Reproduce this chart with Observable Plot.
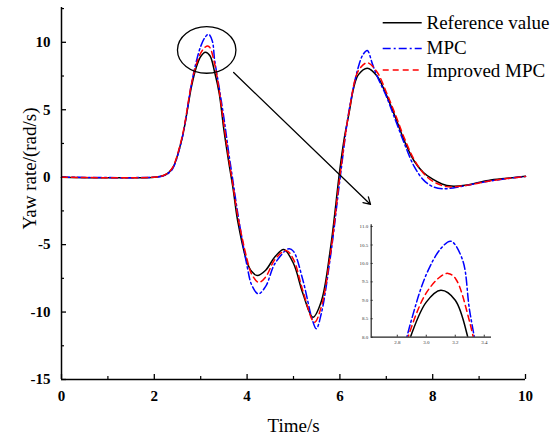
<!DOCTYPE html>
<html><head><meta charset="utf-8">
<script src="https://cdn.jsdelivr.net/npm/d3@7"></script>
<script src="https://cdn.jsdelivr.net/npm/@observablehq/plot@0.6"></script>
<style>
body{margin:0;background:#fff;}
#wrap{position:relative;width:553px;height:437px;font-family:"Liberation Serif","Times New Roman",serif;}
#inset{position:absolute;left:350px;top:215px;}
#legend{position:absolute;left:0;top:0;pointer-events:none;}
</style></head><body><div id="wrap"></div>
<script>
// ---- data ----
const refT = [0, 2.0, 2.2, 2.3, 2.4, 2.6, 2.8, 2.9, 3.0, 3.1, 3.2, 3.3, 3.4, 3.5, 3.6, 3.7, 3.8, 4.0, 4.1, 4.22, 4.4, 4.6, 4.79, 5.0, 5.2, 5.42, 5.6, 5.8, 6.0, 6.1, 6.2, 6.3, 6.4, 6.59, 6.8, 7.0, 7.2, 7.4, 7.6, 7.8, 8.0, 8.2, 8.4, 8.7, 9.2, 9.6, 10];
const refV = [0, 0, 0.12, 0.32, 0.7, 2.9, 6.7, 8.1, 8.95, 9.27, 9.0, 7.8, 6.2, 3.5, 1.2, -0.9, -3.3, -6.3, -7.0, -7.29, -6.9, -5.9, -5.36, -6.4, -8.6, -10.38, -9.2, -5.2, 0.6, 3.0, 4.8, 6.67, 7.6, 8.08, 7.5, 6.1, 4.4, 2.6, 1.2, 0.35, -0.15, -0.5, -0.66, -0.6, -0.24, -0.08, 0.07];

const mpcT = [0, 2.0, 2.2, 2.3, 2.4, 2.6, 2.8, 2.9, 3.0, 3.1, 3.17, 3.25, 3.3, 3.4, 3.5, 3.6, 3.7, 3.8, 4.0, 4.1, 4.24, 4.4, 4.6, 4.9, 5.0, 5.2, 5.4, 5.49, 5.6, 5.8, 6.0, 6.2, 6.4, 6.5, 6.59, 6.7, 6.8, 7.0, 7.2, 7.4, 7.6, 7.8, 8.0, 8.23, 8.6, 9.0, 9.5, 10];
const mpcV = [0, 0, 0.1, 0.28, 0.65, 2.9, 6.9, 8.5, 9.7, 10.4, 10.6, 10.1, 8.7, 6.6, 4.4, 1.9, -0.4, -2.7, -6.6, -8.0, -8.65, -8.1, -6.4, -5.3, -5.5, -7.6, -10.5, -11.24, -10.1, -5.8, -0.2, 5.0, 8.2, 9.1, 9.39, 8.4, 7.5, 6.0, 4.2, 2.4, 0.8, -0.2, -0.7, -0.86, -0.7, -0.42, -0.15, 0.05];

const impT = [0, 2.0, 2.2, 2.3, 2.4, 2.6, 2.8, 2.9, 3.0, 3.1, 3.15, 3.2, 3.3, 3.4, 3.5, 3.6, 3.7, 3.8, 4.0, 4.1, 4.25, 4.4, 4.6, 4.84, 5.0, 5.2, 5.45, 5.6, 5.8, 6.0, 6.2, 6.4, 6.59, 6.8, 7.0, 7.2, 7.4, 7.6, 7.8, 8.0, 8.3, 8.7, 9.2, 9.6, 10];
const impV = [0, 0, 0.13, 0.34, 0.75, 3.0, 6.9, 8.3, 9.2, 9.65, 9.73, 9.6, 8.4, 6.4, 3.9, 1.5, -0.7, -2.9, -6.1, -7.2, -7.8, -7.4, -6.1, -5.43, -6.1, -8.4, -10.75, -9.6, -5.6, 0.1, 4.9, 7.9, 8.48, 7.8, 6.3, 4.6, 2.8, 1.3, 0.3, -0.3, -0.7, -0.62, -0.3, -0.1, 0.05];

const seriesNames = ["Reference value", "MPC", "Improved MPC"];
const xMajor = [0, 2, 4, 6, 8, 10];
const xMinor = [1, 3, 5, 7, 9];
const yMajor = [-15, -10, -5, 0, 5, 10];
const yMinor = [-12.5, -7.5, -2.5, 2.5, 7.5, 12.5];
const insetXTicks = [2.8, 3.0, 3.2, 3.4];
const insetYTicks = [8.0, 8.5, 9.0, 9.5, 10.0, 10.5, 11.0];
// annotation: zoom ellipse and arrow (data units)
const ellipseSpec = {cx: 3.14, cy: 9.4, rx: 0.63, ry: 1.73};
const arrowSpec = [{x1: 3.71, y1: 7.76, x2: 6.66, y2: -2.02}];

// ---- build ----
const rows = (T, V) => T.map((t, i) => ({t, v: V[i]}));
const ref = rows(refT, refV), mpc = rows(mpcT, mpcV), imp = rows(impT, impV);
const styles = [
  {stroke: "#000000", strokeWidth: 1.5},
  {stroke: "#0000ff", strokeWidth: 1.5, strokeDasharray: "8,3,2,3"},
  {stroke: "#ff0000", strokeWidth: 1.5, strokeDasharray: "6,4"}
];
const data = [ref, mpc, imp];
const fmt = d => String(d);

function lines(extra = {}) {
  return data.map((d, i) => Plot.line(d, {x: "t", y: "v", curve: "catmull-rom", ...styles[i], ...extra}));
}

function ellipseMark(index, scales) {
  const cx = scales.x(ellipseSpec.cx), cy = scales.y(ellipseSpec.cy);
  const rx = Math.abs(scales.x(ellipseSpec.cx + ellipseSpec.rx) - cx);
  const ry = Math.abs(scales.y(ellipseSpec.cy + ellipseSpec.ry) - cy);
  const e = d3.create("svg:ellipse")
    .attr("cx", cx).attr("cy", cy).attr("rx", rx).attr("ry", ry)
    .attr("fill", "none").attr("stroke", "#000").attr("stroke-width", 1.3);
  return e.node();
}

const main = Plot.plot({
  width: 553, height: 437,
  marginLeft: 61, marginRight: 28, marginTop: 7, marginBottom: 58,
  x: {domain: [0, 10]},
  y: {domain: [-15, 12.58]},
  style: {fontFamily: "'Liberation Serif', serif", background: "white", color: "black", overflow: "visible"},
  marks: [
    Plot.axisX({ticks: xMinor, tickSize: -3, text: null, strokeWidth: 1.2}),
    Plot.axisX({ticks: xMajor, tickSize: -5, tickPadding: 16, fontSize: 15, fontWeight: "bold", tickFormat: fmt, label: null, strokeWidth: 1.3}),
    Plot.axisY({ticks: yMinor, tickSize: -3, text: null, strokeWidth: 1.2}),
    Plot.axisY({ticks: yMajor, tickSize: -5, tickPadding: 16, fontSize: 15, fontWeight: "bold", tickFormat: fmt, label: null, strokeWidth: 1.3}),
    ...lines(),
    Plot.ruleX([0], {y1: -15, y2: 12.58, strokeWidth: 1.5}),
    Plot.ruleY([-15], {strokeWidth: 1.5}),
    ellipseMark,
    Plot.arrow(arrowSpec, {x1: "x1", y1: "y1", x2: "x2", y2: "y2", stroke: "#000", strokeWidth: 1.3, headLength: 9}),
    Plot.text(["Time/s"], {frameAnchor: "bottom", dy: 46, text: d => d, fontSize: 19, lineAnchor: "middle"}),
    Plot.text(["Yaw rate/(rad/s)"], {frameAnchor: "left", dx: -32, dy: -25, rotate: -90, text: d => d, fontSize: 19, lineAnchor: "middle", textAnchor: "middle"})
  ]
});

const inset = Plot.plot({
  width: 150, height: 130,
  marginLeft: 20.7, marginRight: 9, marginTop: 9.2, marginBottom: 8.3,
  x: {domain: [2.62, 3.45]},
  y: {domain: [8, 11.05]},
  style: {fontFamily: "'Liberation Serif', serif", background: "transparent", color: "#333", overflow: "visible"},
  marks: [
    Plot.axisX({ticks: insetXTicks, tickSize: -2, tickPadding: 5, fontSize: 5, tickFormat: d3.format(".1f"), label: null}),
    Plot.axisY({ticks: insetYTicks, tickSize: -2, tickPadding: 5, fontSize: 5, tickFormat: d3.format(".1f"), label: null}),
    ...lines({clip: true}),
    Plot.ruleX([2.62], {y1: 8, y2: 11.05, stroke: "#222", strokeWidth: 1.2}),
    Plot.ruleY([8], {stroke: "#222", strokeWidth: 1.2})
  ]
});
inset.id = "inset";

const wrap = document.getElementById("wrap");
wrap.appendChild(main);
wrap.appendChild(inset);

// legend overlay
const legY = [22.7, 48.5, 70];
const legTextY = [22, 47, 70];
const leg = d3.create("svg").attr("id", "legend").attr("width", 553).attr("height", 437);
seriesNames.forEach((name, i) => {
  const s = styles[i];
  leg.append("line").attr("x1", 382.7).attr("x2", 421.7).attr("y1", legY[i]).attr("y2", legY[i])
    .attr("stroke", s.stroke).attr("stroke-width", 1.6).attr("stroke-dasharray", s.strokeDasharray || null);
  leg.append("text").attr("x", 426.5).attr("y", legTextY[i]).attr("dy", "0.35em")
    .attr("font-family", "'Liberation Serif', serif").attr("font-size", 19).attr("fill", "#000").text(name);
});
wrap.appendChild(leg.node());
</script>
</body></html>
